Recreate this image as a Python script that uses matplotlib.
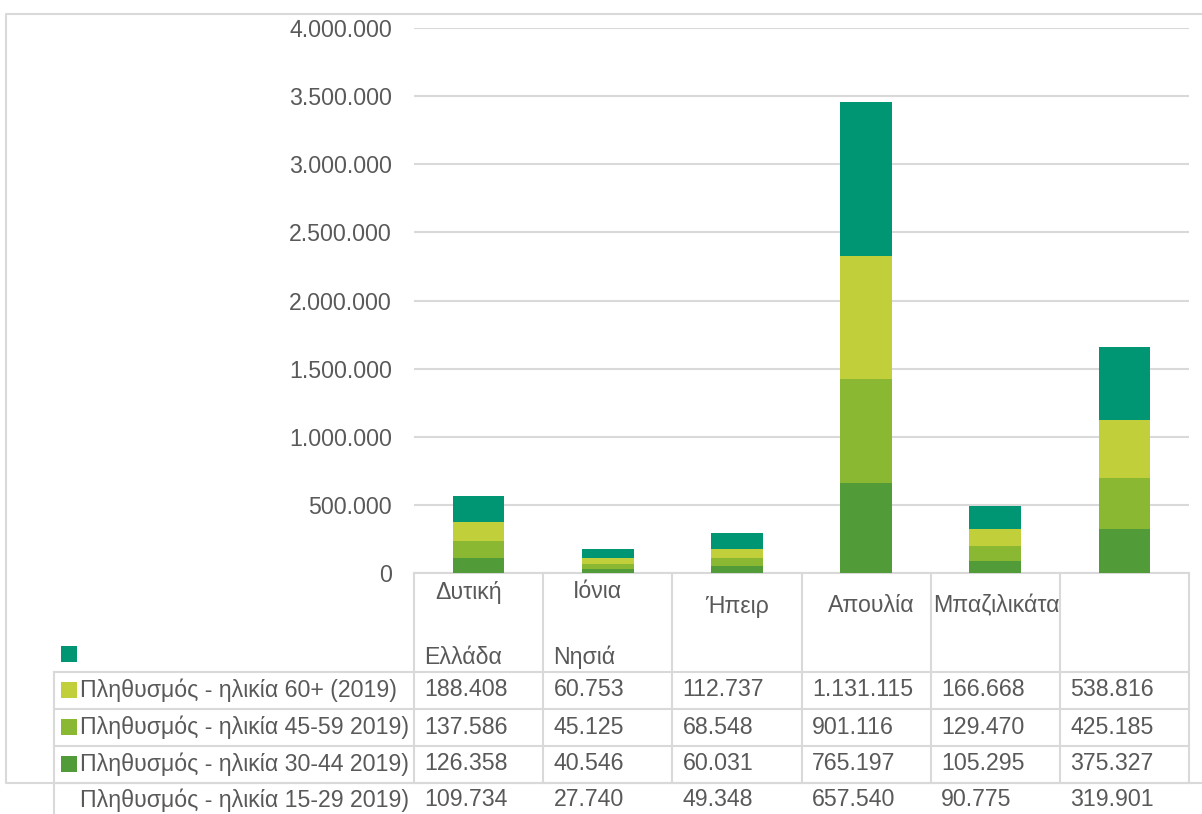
import matplotlib
matplotlib.use('Agg')
import matplotlib.pyplot as plt
import matplotlib.transforms as mtransforms
from matplotlib.ticker import FuncFormatter
import numpy as np

plt.rcParams['font.family'] = ['Liberation Sans', 'DejaVu Sans']

# δεδομένα
regions = [['Δυτική', 'Ελλάδα'], ['Ιόνια', 'Νησιά'], ['Ήπειρ'], ['Απουλία'], ['Μπαζιλικάτα'], ['']]
age_15_29 = [109734, 27740, 49348, 657540, 90775, 319901]
age_30_44 = [126358, 40546, 60031, 765197, 105295, 375327]
age_45_59 = [137586, 45125, 68548, 901116, 129470, 425185]
age_60 = [188408, 60753, 112737, 1131115, 166668, 538816]
y_ticks = [0, 500000, 1000000, 1500000, 2000000, 2500000, 3000000, 3500000, 4000000]

row_labels = ['Πληθυσμός - ηλικία 60+ (2019)', 'Πληθυσμός - ηλικία 45-59 2019)',
              'Πληθυσμός - ηλικία 30-44 2019)', 'Πληθυσμός - ηλικία 15-29 2019)']
row_values = [age_60, age_45_59, age_30_44, age_15_29]

c_dark = '#519b38'
c_mid = '#8ab833'
c_light = '#c0cf3a'
c_teal = '#009673'
grid_c = '#d9d9d9'
text_c = '#595959'
fs = 16.7


def fmt(v):
    return f'{int(v):,}'.replace(',', '.')


W, H = 1202, 814
fig = plt.figure(figsize=(W / 100, H / 100), dpi=100)
ax = fig.add_axes([414 / W, (H - 573) / H, 775 / W, (573 - 28) / H])

x = np.arange(len(regions))
bottom = np.zeros(len(regions))
for vals, col in zip([age_15_29, age_30_44, age_45_59, age_60], [c_dark, c_mid, c_light, c_teal]):
    ax.bar(x, vals, 0.4, bottom=bottom, color=col, zorder=3)
    bottom += np.array(vals)

ax.set_xlim(-0.5, len(regions) - 0.5)
ax.set_ylim(0, 4000000)
ax.set_yticks(y_ticks)
ax.yaxis.set_major_formatter(FuncFormatter(lambda v, p: fmt(v)))
ax.set_xticks([])
ax.tick_params(axis='y', length=0, pad=16, labelsize=fs, labelcolor=text_c)
ax.grid(axis='y', color=grid_c, linewidth=1.5, zorder=0)
for s in ['left', 'right', 'top']:
    ax.spines[s].set_visible(False)
ax.spines['bottom'].set_color(grid_c)
ax.spines['bottom'].set_linewidth(1.5)

# πίνακας δεδομένων κάτω από το γράφημα
over = fig.add_axes([0, 0, 1, 1], zorder=-1)
over.set_xlim(0, W)
over.set_ylim(H, 0)
over.axis('off')
tr = mtransforms.blended_transform_factory(ax.transData, over.transData)

# εξωτερικό πλαίσιο
over.plot([1202, 6, 6, 1202], [14, 14, 783, 783], color=grid_c, lw=1.5)

row_lines = [672, 709, 746, 783]
for y in row_lines:
    over.plot([54, 1189], [y, y], color=grid_c, lw=1.5)
over.plot([54, 54], [672, 814], color=grid_c, lw=1.5)
for i in range(len(regions) + 1):
    ax.plot([i - 0.5, i - 0.5], [573, 783], color=grid_c, lw=1.5, transform=tr, clip_on=False)

# επικεφαλίδες στηλών
for i, name in enumerate(regions):
    if len(name) == 2:
        ax.text(i - 0.08, 592, name[0], transform=tr, ha='center', va='center', fontsize=fs, color=text_c)
        ax.text(i - 0.42, 657, name[1], transform=tr, ha='left', va='center', fontsize=fs, color=text_c)
    elif len(name[0]) > 8:
        ax.text(i - 0.48, 606, name[0], transform=tr, ha='left', va='center', fontsize=fs, color=text_c)
    else:
        ax.text(i + 0.04 * (i > 2), 606, name[0], transform=tr, ha='center', va='center',
                fontsize=fs, color=text_c)

# δείκτες υπομνήματος και ετικέτες γραμμών
marker_colors = [c_teal, c_light, c_mid, c_dark, None]
marker_y = [654, 690, 727, 764, 800]
for col, y in zip(marker_colors, marker_y):
    if col is not None:
        over.scatter([68.5], [y], marker='s', s=130, color=col, linewidths=0)

label_y = marker_y[1:]
for lab, vals, y in zip(row_labels, row_values, label_y):
    over.text(80, y, lab, ha='left', va='center', fontsize=fs, color=text_c)
    for i, v in enumerate(vals):
        ax.text(i - 0.42, y, fmt(v), transform=tr, ha='left', va='center', fontsize=fs, color=text_c)

fig.savefig('out.png', dpi=100, facecolor='white')
